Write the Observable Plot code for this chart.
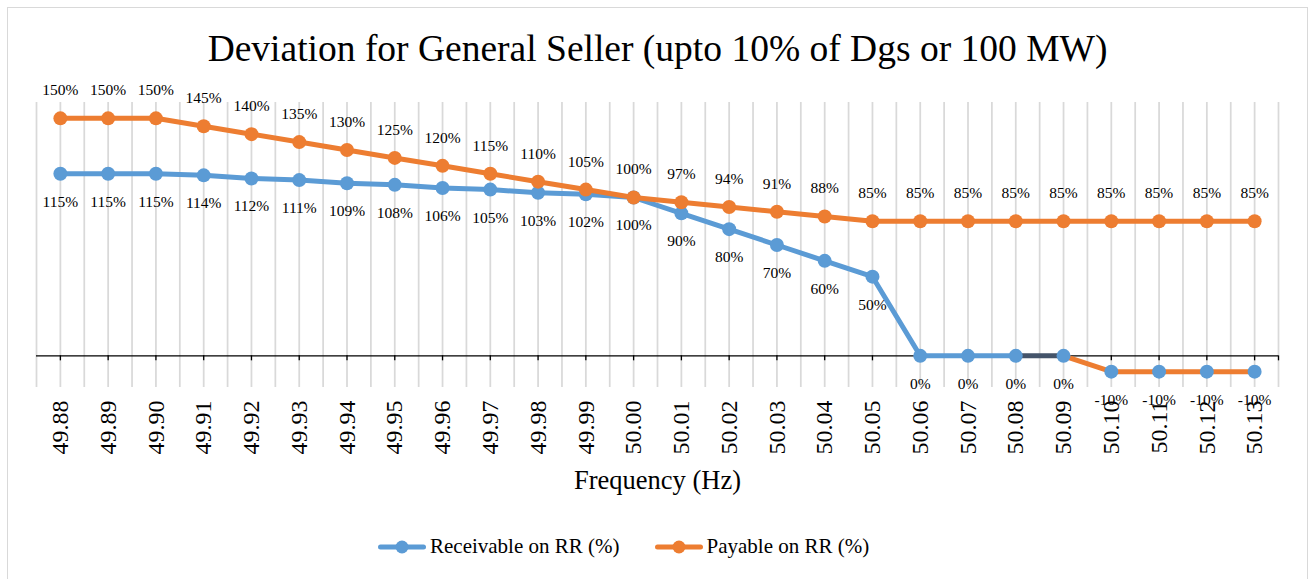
<!DOCTYPE html>
<html><head><meta charset="utf-8">
<script src="https://cdn.jsdelivr.net/npm/d3@7"></script>
<script src="https://cdn.jsdelivr.net/npm/@observablehq/plot@0.6"></script>
<style>
body{margin:0;background:#fff;}
#wrap{position:relative;width:1312px;height:579px;overflow:hidden;font-family:'Liberation Serif',serif;}
#frame{position:absolute;left:7px;top:7px;width:1301px;height:620px;border:1.5px solid #d9d9d9;box-sizing:border-box;pointer-events:none;z-index:2;}
#chart{position:absolute;left:0;top:0;}
#legend{position:absolute;top:534px;left:378px;display:flex;align-items:center;font-size:21px;color:#000;white-space:nowrap;}
#legend .item{display:flex;align-items:center;}
#legend svg{margin-right:4px;}
#chart svg text{font-family:'Liberation Serif',serif;}
</style></head>
<body>
<div id="wrap"><div id="chart"></div><div id="legend"></div><div id="frame"></div></div>
<script>
const chartTitle = "Deviation for General Seller (upto 10% of Dgs or 100 MW)";
const xTitle = "Frequency (Hz)";
const frequencies = ["49.88","49.89","49.90","49.91","49.92","49.93","49.94","49.95","49.96","49.97","49.98","49.99","50.00","50.01","50.02","50.03","50.04","50.05","50.06","50.07","50.08","50.09","50.10","50.11","50.12","50.13"];
const receivable = [115,115,115,114,112,111,109,108,106,105,103,102,100,90,80,70,60,50,0,0,0,0,-10,-10,-10,-10];
const payable = [150,150,150,145,140,135,130,125,120,115,110,105,100,97,94,91,88,85,85,85,85,85,85,85,85,85];
const seriesNames = ["Receivable on RR (%)","Payable on RR (%)"];

const BLUE = "#5b9bd5", ORANGE = "#ed7d31", SLATE = "#44546a", GRID = "#d9d9d9";
const FONT = "Liberation Serif";

const rows = frequencies.map((f, i) => ({f: +f, r: receivable[i], p: payable[i]}));
const segments = d3.pairs(rows).map(([a, b], i) => ({x1: a.f, y1: a.r, x2: b.f, y2: b.r, i}));
const step = 0.01;
const gridX = rows.flatMap(d => [d.f - step / 2, d.f]).concat([rows[rows.length - 1].f + step / 2]);
const segColor = d => d.i === 20 ? SLATE : d.i >= 21 ? ORANGE : BLUE;

const chart = Plot.plot({
  width: 1312, height: 579,
  marginLeft: 36, marginRight: 34, marginTop: 102, marginBottom: 192,
  style: {fontFamily: FONT, background: "transparent", overflow: "visible", color: "#000"},
  x: {type: "linear", domain: [rows[0].f - step / 2, rows[rows.length - 1].f + step / 2]},
  y: {domain: [-20, 160], axis: null},
  marks: [
    Plot.ruleX(gridX, {stroke: GRID, strokeWidth: 1.75}),
    Plot.ruleY([0], {stroke: "#000", strokeWidth: 1.3}),
    Plot.ruleX(rows.map(d => d.f).concat([gridX[gridX.length - 1]]), {y1: 0, y2: 0, insetBottom: -5, stroke: "#000", strokeWidth: 1.3}),
    Plot.axisX(rows.map(d => d.f), {anchor: "bottom", tickSize: 0, tickPadding: 13, tickRotate: -90, fontSize: 24, fontFamily: FONT, tickFormat: d => d3.format(".2f")(d), label: null}),
    Plot.link(segments, {x1: "x1", y1: "y1", x2: "x2", y2: "y2", stroke: segColor, strokeWidth: 5, strokeLinecap: "round"}),
    Plot.dot(rows, {x: "f", y: "r", r: 7, fill: BLUE}),
    Plot.line(rows, {x: "f", y: "p", stroke: ORANGE, strokeWidth: 5, strokeLinejoin: "round", strokeLinecap: "round"}),
    Plot.dot(rows, {x: "f", y: "p", r: 7, fill: ORANGE}),
    Plot.text(rows, {x: "f", y: "p", text: d => d.p + "%", dy: -28, fontSize: 15.5, fontFamily: FONT, fill: "#000"}),
    Plot.text(rows, {x: "f", y: "r", text: d => d.r + "%", dy: 28, fontSize: 15.5, fontFamily: FONT, fill: "#000"}),
    Plot.text([chartTitle], {frameAnchor: "top", lineAnchor: "middle", dy: -54, fontSize: 37.5, fontFamily: FONT, fill: "#000"}),
    Plot.text([xTitle], {frameAnchor: "bottom", lineAnchor: "middle", dy: 93, fontSize: 26.5, fontFamily: FONT, fill: "#000"})
  ]
});
document.getElementById("chart").appendChild(chart);

const legend = document.getElementById("legend");
[[seriesNames[0], BLUE], [seriesNames[1], ORANGE]].forEach(([name, color], k) => {
  const item = document.createElement("div");
  item.className = "item";
  if (k > 0) item.style.marginLeft = "35px";
  item.innerHTML = `<svg width="48" height="16"><line x1="2.5" y1="8" x2="45.5" y2="8" stroke="${color}" stroke-width="5" stroke-linecap="round"/><circle cx="24" cy="8" r="6.5" fill="${color}"/></svg><span>${name}</span>`;
  legend.appendChild(item);
});
</script>
</body></html>
